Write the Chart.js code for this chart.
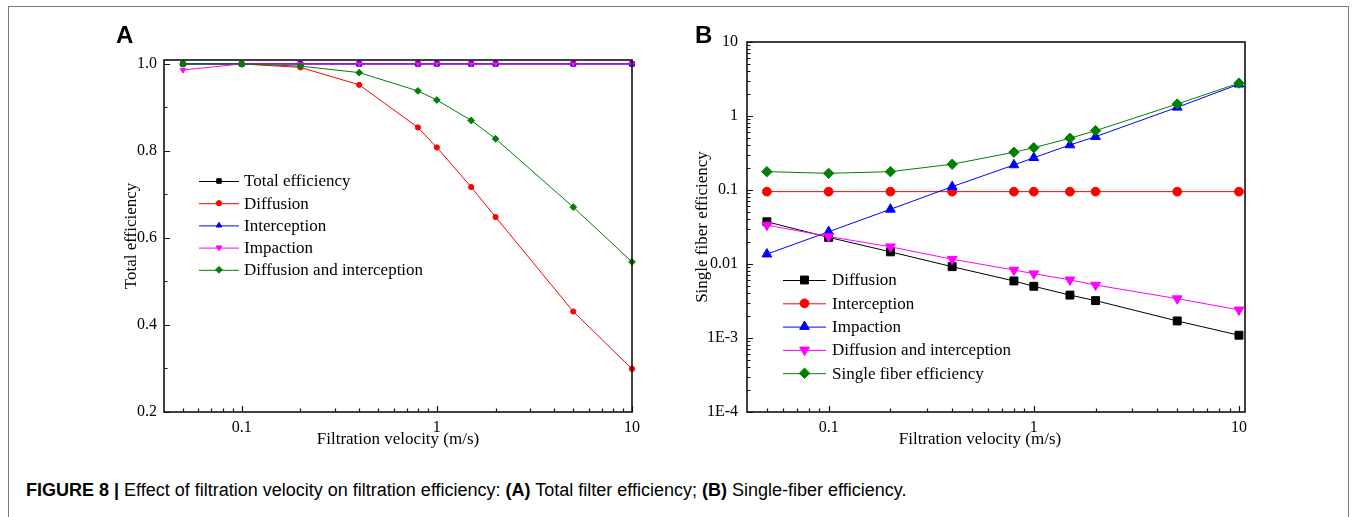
<!DOCTYPE html>
<html><head><meta charset="utf-8">
<script src="https://cdn.jsdelivr.net/npm/chart.js@4.4.0/dist/chart.umd.min.js"></script>
<style>
html,body{margin:0;padding:0;background:#fff;}
#wrap{position:relative;width:1356px;height:517px;overflow:hidden;background:#fff;}
#frame{position:absolute;left:8px;top:6px;width:1341px;height:600px;border:1.5px solid #7a7a7a;box-sizing:border-box;}
#ca{position:absolute;left:0;top:0;}
#cb{position:absolute;left:680px;top:0;}
.lbl{position:absolute;font-family:"Liberation Sans",Arial,sans-serif;font-weight:bold;font-size:24px;line-height:24px;color:#000;}
#caption{position:absolute;left:26px;top:479px;font-family:"Liberation Sans",Arial,sans-serif;font-size:18px;line-height:22px;white-space:nowrap;color:#000;}
</style></head>
<body>
<div id="wrap">
  <div id="frame"></div>
  <canvas id="ca" width="680" height="470"></canvas>
  <canvas id="cb" width="676" height="470"></canvas>
  <div class="lbl" style="left:116px;top:23px;">A</div>
  <div class="lbl" style="left:695px;top:23px;">B</div>
  <div id="caption"><b>FIGURE 8 |</b> Effect of filtration velocity on filtration efficiency: <b>(A)</b> Total filter efficiency; <b>(B)</b> Single-fiber efficiency.</div>
</div>
<script>
// ---------- data ----------
const velocity = [0.05, 0.1, 0.2, 0.4, 0.8, 1, 1.5, 2, 5, 10];

// Panel A : total efficiency
const namesA = ['Total efficiency', 'Diffusion', 'Interception', 'Impaction', 'Diffusion and interception'];
const totalA        = [1, 1, 1, 1, 1, 1, 1, 1, 1, 1];
const diffusionA    = [1.0, 1.0, 0.992, 0.952, 0.854, 0.808, 0.717, 0.648, 0.431, 0.299];
const interceptionA = [1, 1, 1, 1, 1, 1, 1, 1, 1, 1];
const impactionA    = [0.986, 1, 1, 1, 1, 1, 1, 1, 1, 1];
const diffInterA    = [1.0, 1.0, 0.995, 0.980, 0.938, 0.917, 0.870, 0.828, 0.671, 0.545];

// Panel B : single fiber efficiency
const namesB = ['Diffusion', 'Interception', 'Impaction', 'Diffusion and interception', 'Single fiber efficiency'];
const diffusionB    = [0.0372, 0.0229, 0.0146, 0.0092, 0.0059, 0.0050, 0.0038, 0.0032, 0.0017, 0.00109];
const interceptionB = [0.095, 0.095, 0.095, 0.095, 0.095, 0.095, 0.095, 0.095, 0.095, 0.095];
const impactionB    = [0.0136, 0.0273, 0.0548, 0.111, 0.218, 0.273, 0.406, 0.526, 1.31, 2.69];
const diffInterB    = [0.0336, 0.0235, 0.0171, 0.0116, 0.0083, 0.0074, 0.0061, 0.0052, 0.0034, 0.0024];
const singleFiberB  = [0.177, 0.168, 0.177, 0.223, 0.324, 0.373, 0.50, 0.634, 1.45, 2.78];

// tick values / labels
const xTickValues = [0.1, 1, 10];
const xTickLabels = ['0.1', '1', '10'];
const xMinorTicks = [0.05, 0.06, 0.07, 0.08, 0.09, 0.2, 0.3, 0.4, 0.5, 0.6, 0.7, 0.8, 0.9, 2, 3, 4, 5, 6, 7, 8, 9];
const yTickValuesA = [0.2, 0.4, 0.6, 0.8, 1.0];
const yTickLabelsA = ['0.2', '0.4', '0.6', '0.8', '1.0'];
const yMinorTicksA = [0.3, 0.5, 0.7, 0.9];
const yTickValuesB = [1e-4, 1e-3, 0.01, 0.1, 1, 10];
const yTickLabelsB = ['1E-4', '1E-3', '0.01', '0.1', '1', '10'];
const yMinorTicksB = [];
for (const d of [1e-4, 1e-3, 0.01, 0.1, 1]) for (let k = 2; k <= 9; k++) yMinorTicksB.push(d * k);

// ---------- helpers ----------
const SERIF = '"Liberation Serif", "Times New Roman", serif';

function pts(values) { return velocity.map((v, i) => ({ x: v, y: values[i] })); }

function ds(label, values, color, style, radius, rotation, idx, n) {
  return {
    label, data: pts(values),
    borderColor: color, backgroundColor: color,
    borderWidth: 1, pointStyle: style, pointRadius: radius, pointHoverRadius: radius,
    pointRotation: rotation || 0, pointBorderWidth: 1,
    pointBorderColor: color, pointBackgroundColor: color,
    tension: 0, fill: false, clip: false, order: n - idx
  };
}

const decoPlugin = {
  id: 'deco',
  afterDraw(chart, args, o) {
    const { ctx, chartArea: ca, scales } = chart;
    const xs = scales.x, ys = scales.y;
    ctx.save();
    // ticks (inward)
    ctx.strokeStyle = '#111'; ctx.lineWidth = 1.2;
    ctx.beginPath();
    for (const v of o.xMajor) { const p = Math.round(xs.getPixelForValue(v)) + 0.5; ctx.moveTo(p, ca.bottom); ctx.lineTo(p, ca.bottom - 6); }
    for (const v of o.xMinor) { const p = Math.round(xs.getPixelForValue(v)) + 0.5; ctx.moveTo(p, ca.bottom); ctx.lineTo(p, ca.bottom - 3.5); }
    for (const v of o.yMajor) { const p = Math.round(ys.getPixelForValue(v)) + 0.5; ctx.moveTo(ca.left, p); ctx.lineTo(ca.left + 6, p); }
    for (const v of o.yMinor) { const p = Math.round(ys.getPixelForValue(v)) + 0.5; ctx.moveTo(ca.left, p); ctx.lineTo(ca.left + 3.5, p); }
    ctx.stroke();
    // frame
    ctx.lineWidth = 1.6; ctx.strokeStyle = '#111';
    ctx.strokeRect(ca.left, ca.top, ca.right - ca.left, ca.bottom - ca.top);
    // tick labels
    ctx.fillStyle = '#000';
    ctx.font = '16px ' + SERIF;
    ctx.textAlign = 'center'; ctx.textBaseline = 'top';
    o.xMajor.forEach((v, i) => ctx.fillText(o.xLabels[i], xs.getPixelForValue(v), ca.bottom + 8));
    ctx.textAlign = 'right'; ctx.textBaseline = 'middle';
    o.yMajor.forEach((v, i) => ctx.fillText(o.yLabels[i], ca.left - o.yPad, ys.getPixelForValue(v)));
    // axis titles
    ctx.font = o.titleFont;
    ctx.textAlign = 'center'; ctx.textBaseline = 'middle';
    ctx.fillText(o.xTitle, o.xTitleX, o.xTitleY);
    ctx.save();
    ctx.translate(o.yTitleX, o.yTitleY); ctx.rotate(-Math.PI / 2);
    ctx.fillText(o.yTitle, 0, 0);
    ctx.restore();
    // legend
    const L = o.legend;
    ctx.font = L.font; ctx.textAlign = 'left'; ctx.textBaseline = 'middle';
    chart.data.datasets.forEach((d, i) => {
      const y = L.y0 + i * L.dy;
      ctx.strokeStyle = d.borderColor; ctx.lineWidth = 1;
      ctx.beginPath(); ctx.moveTo(L.x0, y + 0.5); ctx.lineTo(L.x1, y + 0.5); ctx.stroke();
      ctx.fillStyle = d.pointBackgroundColor; ctx.strokeStyle = d.pointBorderColor;
      Chart.helpers.drawPoint(ctx, { pointStyle: d.pointStyle, rotation: d.pointRotation, radius: d.pointRadius, borderWidth: 1 }, (L.x0 + L.x1) / 2, y);
      ctx.fillStyle = '#000';
      ctx.fillText(d.label, L.tx, y + 1);
    });
    ctx.restore();
  }
};

function makeScales(xMax, yType, yMin, yMax, yVals, yWidth) {
  return {
    x: {
      type: 'logarithmic', min: 0.04, max: xMax,
      afterBuildTicks: s => { s.ticks = xTickValues.map(v => ({ value: v })); },
      afterFit: s => { s.height = 58; },
      grid: { display: false, drawTicks: false }, border: { display: false },
      ticks: { display: false }
    },
    y: {
      type: yType, min: yMin, max: yMax,
      afterBuildTicks: s => { s.ticks = yVals.map(v => ({ value: v })); },
      afterFit: s => { s.width = yWidth; },
      grid: { display: false, drawTicks: false }, border: { display: false },
      ticks: { display: false }
    }
  };
}

// ---------- Panel A ----------
new Chart(document.getElementById('ca'), {
  type: 'line',
  data: {
    datasets: [
      ds(namesA[0], totalA, '#000000', 'rect', 3.2, 0, 0, 5),
      ds(namesA[1], diffusionA, '#ff0000', 'circle', 2.6, 0, 1, 5),
      ds(namesA[2], interceptionA, '#0000ff', 'triangle', 3.2, 0, 2, 5),
      ds(namesA[3], impactionA, '#ff00ff', 'triangle', 3.2, 180, 3, 5),
      ds(namesA[4], diffInterA, '#008000', 'rectRot', 3.4, 0, 4, 5)
    ]
  },
  options: {
    responsive: false, animation: false, devicePixelRatio: 1,
    layout: { padding: { left: 0, right: 48, top: 60, bottom: 0 } },
    plugins: {
      legend: { display: false }, tooltip: { enabled: false },
      deco: {
        xMajor: xTickValues, xLabels: xTickLabels, xMinor: xMinorTicks,
        yMajor: yTickValuesA, yLabels: yTickLabelsA, yMinor: yMinorTicksA, yPad: 7,
        titleFont: '17px ' + SERIF,
        xTitle: 'Filtration velocity (m/s)', xTitleX: 398, xTitleY: 440,
        yTitle: 'Total efficiency', yTitleX: 132, yTitleY: 236,
        legend: { x0: 199, x1: 239, tx: 244, y0: 181, dy: 22.2, font: '17px ' + SERIF }
      }
    },
    scales: makeScales(10, 'linear', 0.2, 1.009, yTickValuesA, 164)
  },
  plugins: [decoPlugin]
});

// ---------- Panel B ----------
new Chart(document.getElementById('cb'), {
  type: 'line',
  data: {
    datasets: [
      ds(namesB[0], diffusionB, '#000000', 'rect', 5.6, 0, 0, 5),
      ds(namesB[1], interceptionB, '#ff0000', 'circle', 4.4, 0, 1, 5),
      ds(namesB[2], impactionB, '#0000ff', 'triangle', 5.6, 0, 2, 5),
      ds(namesB[3], diffInterB, '#ff00ff', 'triangle', 5.6, 180, 3, 5),
      ds(namesB[4], singleFiberB, '#008000', 'rectRot', 5.2, 0, 4, 5)
    ]
  },
  options: {
    responsive: false, animation: false, devicePixelRatio: 1,
    layout: { padding: { left: 0, right: 111, top: 42, bottom: 0 } },
    plugins: {
      legend: { display: false }, tooltip: { enabled: false },
      deco: {
        xMajor: xTickValues, xLabels: xTickLabels, xMinor: xMinorTicks,
        yMajor: yTickValuesB, yLabels: yTickLabelsB, yMinor: yMinorTicksB, yPad: 9,
        titleFont: '17px ' + SERIF,
        xTitle: 'Filtration velocity (m/s)', xTitleX: 300, xTitleY: 440,
        yTitle: 'Single fiber efficiency', yTitleX: 23, yTitleY: 227,
        legend: { x0: 103, x1: 146, tx: 152, y0: 280, dy: 23.3, font: '17px ' + SERIF }
      }
    },
    scales: makeScales(10.7, 'logarithmic', 1e-4, 10, yTickValuesB, 67)
  },
  plugins: [decoPlugin]
});
</script>
</body></html>
